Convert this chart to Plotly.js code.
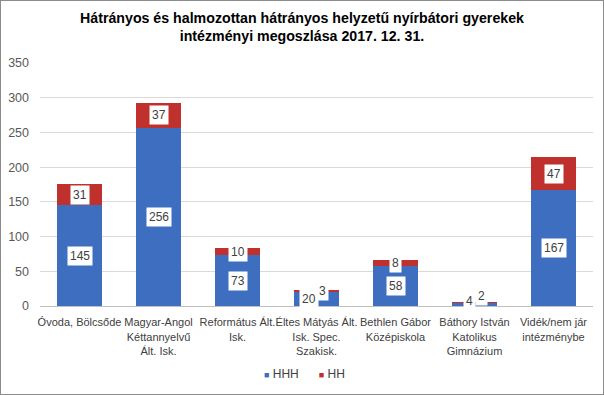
<!DOCTYPE html>
<html><head><meta charset="utf-8">
<script src="https://cdn.plot.ly/plotly-3.0.1.min.js"></script>
<style>html,body{margin:0;padding:0;background:#fff}#c{width:602px;height:393px;border:1px solid #8c8c8c}</style>
</head><body><div id="c"></div>
<script>
const categories = ["Óvoda, Bölcsőde","Magyar-Angol<br>Kéttannyelvű<br>Ált. Isk.","Református Ált.<br>Isk.","Éltes Mátyás Ált.<br>Isk. Spec.<br>Szakisk.","Bethlen Gábor<br>Középiskola","Báthory István<br>Katolikus<br>Gimnázium","Vidék/nem jár<br>intézménybe"];
const seriesNames = ["HHH", "HH"];
const hhh = [145, 256, 73, 20, 58, 4, 167];
const hh = [31, 37, 10, 3, 8, 2, 47];
const tickVals = [0, 50, 100, 150, 200, 250, 300, 350];

const blue = "#3d6ec0", red = "#c0302d";
const data = [
  {type:"bar", name:seriesNames[0], x:categories, y:hhh, marker:{color:blue}, hoverinfo:"none", showlegend:false},
  {type:"bar", name:seriesNames[1], x:categories, y:hh, marker:{color:red}, hoverinfo:"none", showlegend:false}
];
const annotations = [];
const shifts = {3:[-8,6,0,0], 5:[-5,7,4,7]};
categories.forEach((c,i)=>{
  const s = shifts[i] || [0,0,0,0];
  annotations.push({x:c, y:hhh[i]/2, text:String(hhh[i]), showarrow:false, bgcolor:"#fff", xshift:s[0], yshift:s[2],
    font:{family:"Liberation Sans, Arial", size:12, color:"#404040"}, borderpad:2});
  annotations.push({x:c, y:hhh[i]+hh[i]/2, text:String(hh[i]), showarrow:false, bgcolor:"#fff", xshift:s[1], yshift:s[3],
    font:{family:"Liberation Sans, Arial", size:12, color:"#404040"}, borderpad:2});
});
// custom compact legend
annotations.push({xref:"paper", yref:"paper", x:0.478, y:-0.28, xanchor:"center", yanchor:"middle", showarrow:false,
  text:"<span style='color:"+blue+";font-size:9px'>■</span> "+seriesNames[0]+"      <span style='color:"+red+";font-size:9px'>■</span> "+seriesNames[1],
  font:{family:"Liberation Sans, Arial", size:12, color:"#404040"}});
const layout = {
  width:602, height:393,
  margin:{l:39, r:10, t:62, b:88},
  paper_bgcolor:"#fff", plot_bgcolor:"#fff",
  barmode:"stack", bargap:0.43,
  title:{text:"<b>Hátrányos és halmozottan hátrányos helyzetű nyírbátori gyerekek<br>intézményi megoszlása 2017. 12. 31.</b>",
    x:0.5, xanchor:"center", yref:"container", y:1-22/393, yanchor:"middle",
    font:{family:"Liberation Sans Narrow, Arial Narrow, sans-serif", size:14.2, color:"#000"}},
  xaxis:{type:"category", showgrid:false, showline:true, linecolor:"#bfbfbf", ticks:"",
    tickfont:{family:"Liberation Sans, Arial", size:11, color:"#404040"}, tickangle:0, automargin:false, ticklabelstandoff:6},
  yaxis:{range:[0,350], tickvals:tickVals, showgrid:true, gridcolor:"#d9d9d9", zeroline:false,
    showline:false, ticks:"", tickfont:{family:"Liberation Sans, Arial", size:12.5, color:"#595959"}, automargin:false, ticklabelstandoff:10},
  annotations:annotations,
  showlegend:false
};
Plotly.newPlot("c", data, layout, {displayModeBar:false, staticPlot:true});
</script></body></html>
